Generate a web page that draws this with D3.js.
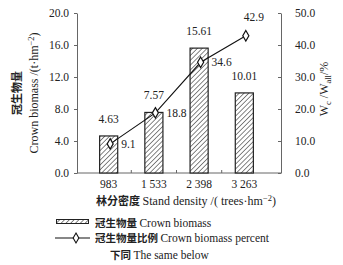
<!DOCTYPE html>
<html>
<head>
<meta charset="utf-8">
<script src="https://cdn.jsdelivr.net/npm/d3@7"></script>
<style>
  body { margin: 0; background: #fff; }
  text { font-family: "Liberation Serif", "Noto Sans CJK SC", serif; fill: #222; }
  .cn { font-family: "Noto Sans CJK SC", sans-serif; font-weight: bold; }
</style>
</head>
<body>
<script>
// data
var densities = ["983", "1 533", "2 398", "3 263"];
var biomass = [4.63, 7.57, 15.61, 10.01];
var percent = [9.1, 18.8, 34.6, 42.9];
var leftTicks = [0, 4, 8, 12, 16, 20];
var rightTicks = [0, 10, 20, 30, 40, 50];

var w = 343, h = 265;
var plotTop = 13, plotBottom = 173, plotLeft = 77, plotRight = 281;

var svg = d3.select("body").append("svg")
    .attr("width", w)
    .attr("height", h);

// hatch pattern
var defs = svg.append("defs");
var pat = defs.append("pattern")
    .attr("id", "hatch")
    .attr("patternUnits", "userSpaceOnUse")
    .attr("width", 3.4)
    .attr("height", 3.4)
    .attr("patternTransform", "rotate(45)");
pat.append("rect").attr("width", 3.4).attr("height", 3.4).attr("fill", "#fff");
pat.append("line")
    .attr("x1", 0).attr("y1", 0).attr("x2", 0).attr("y2", 3.4)
    .attr("stroke", "#222").attr("stroke-width", 1.1);

var x = d3.scaleBand().domain(densities).range([72.5, 280.5]).padding(0.6);
var yL = d3.scaleLinear().domain([0, 20]).range([plotBottom, plotTop]);
var yR = d3.scaleLinear().domain([0, 50]).range([plotBottom, plotTop]);

// left axis
var gL = svg.append("g").attr("transform", "translate(" + plotLeft + ",0)")
    .call(d3.axisLeft(yL).tickValues(leftTicks).tickSize(3).tickSizeOuter(0)
      .tickFormat(d3.format(".1f")));
gL.selectAll("text").attr("font-size", 11.5).attr("dx", -2).style("font-family", "Liberation Serif");
gL.selectAll("line, path").attr("stroke", "#666");

// right axis (ticks inward)
var gR = svg.append("g").attr("transform", "translate(" + plotRight + ",0)")
    .call(d3.axisRight(yR).tickValues(rightTicks).tickSize(0).tickSizeOuter(0)
      .tickFormat(d3.format(".1f")));
gR.selectAll("text").attr("font-size", 11.5).attr("dx", 11).style("font-family", "Liberation Serif");
gR.selectAll("path").attr("stroke", "#666");
gR.selectAll(".tick").append("line").attr("x1", -3).attr("x2", 0).attr("stroke", "#666");

// bottom axis line
svg.append("line")
    .attr("x1", plotLeft).attr("x2", plotRight)
    .attr("y1", plotBottom).attr("y2", plotBottom)
    .attr("stroke", "#666");

// x tick marks between categories
svg.selectAll(".xt")
    .data(densities.slice(1))
    .enter()
    .append("line")
    .attr("x1", function(d) { return x(d) + x.bandwidth() / 2 - x.step() / 2; })
    .attr("x2", function(d) { return x(d) + x.bandwidth() / 2 - x.step() / 2; })
    .attr("y1", plotBottom).attr("y2", plotBottom - 3)
    .attr("stroke", "#666");

// x labels
svg.selectAll(".xl")
    .data(densities)
    .enter()
    .append("text")
    .attr("x", function(d) { return x(d) + x.bandwidth() / 2; })
    .attr("y", 188)
    .attr("text-anchor", "middle")
    .attr("font-size", 11.5)
    .text(function(d) { return d; });

// bars
svg.selectAll(".bar")
    .data(biomass)
    .enter()
    .append("rect")
    .attr("x", function(d, i) { return x(densities[i]); })
    .attr("y", function(d) { return yL(d); })
    .attr("width", x.bandwidth())
    .attr("height", function(d) { return plotBottom - yL(d); })
    .attr("fill", "url(#hatch)")
    .attr("stroke", "#222")
    .attr("stroke-width", 1.2);

svg.selectAll(".bl")
    .data(biomass)
    .enter()
    .append("text")
    .attr("x", function(d, i) { return x(densities[i]) + x.bandwidth() / 2; })
    .attr("y", function(d) { return yL(d) - 13; })
    .attr("text-anchor", "middle")
    .attr("font-size", 11.5)
    .text(function(d) { return d.toFixed(2); });

// line
var cx = function(i) { return x(densities[i]) + x.bandwidth() / 2 + 1.5; };
var line = d3.line()
    .x(function(d, i) { return cx(i); })
    .y(function(d) { return yR(d); });
svg.append("path")
    .datum(percent)
    .attr("d", line)
    .attr("fill", "none")
    .attr("stroke", "#111")
    .attr("stroke-width", 1.1);

svg.selectAll(".pt")
    .data(percent)
    .enter()
    .append("path")
    .attr("d", d3.symbol().type(d3.symbolDiamond).size(32))
    .attr("transform", function(d, i) { return "translate(" + cx(i) + "," + yR(d) + ")"; })
    .attr("fill", "#fff")
    .attr("stroke", "#111")
    .attr("stroke-width", 1.2);

svg.selectAll(".pl")
    .data(percent)
    .enter()
    .append("text")
    .attr("x", function(d, i) { return i == 3 ? cx(i) - 2 : cx(i) + 11; })
    .attr("y", function(d, i) { return i == 3 ? yR(d) - 15 : yR(d) + 4; })
    .attr("font-size", 11.5)
    .text(function(d) { return d.toFixed(1); });

// left title
svg.append("text")
    .attr("transform", "translate(21,93) rotate(-90)")
    .attr("text-anchor", "middle")
    .attr("font-size", 11)
    .attr("class", "cn")
    .text("冠生物量");
var lt2 = svg.append("text")
    .attr("transform", "translate(38,93) rotate(-90)")
    .attr("text-anchor", "middle")
    .attr("font-size", 12);
lt2.append("tspan").text("Crown biomass /(t·hm");
lt2.append("tspan").attr("dy", -4).attr("font-size", 8.5).text("−2");
lt2.append("tspan").attr("dy", 4).text(")");

// right title
var rt = svg.append("text")
    .attr("transform", "translate(328,89) rotate(-90)")
    .attr("text-anchor", "middle")
    .attr("font-size", 12);
rt.append("tspan").text("W");
rt.append("tspan").attr("dy", 3).attr("font-size", 8.5).text("c");
rt.append("tspan").attr("dy", -3).text(" /W");
rt.append("tspan").attr("dy", 3).attr("font-size", 8.5).text("all");
rt.append("tspan").attr("dy", -3).text("/%");

// x title
var xt = svg.append("text")
    .attr("x", 186).attr("y", 205)
    .attr("text-anchor", "middle")
    .attr("font-size", 12);
xt.append("tspan").attr("class", "cn").attr("font-size", 11).text("林分密度 ");
xt.append("tspan").text("Stand density /( trees·hm");
xt.append("tspan").attr("dy", -4).attr("font-size", 8.5).text("−2");
xt.append("tspan").attr("dy", 4).text(")");

// legend
svg.append("rect")
    .attr("x", 56.5).attr("y", 219.5).attr("width", 32).attr("height", 4)
    .attr("fill", "url(#hatch)").attr("stroke", "#222").attr("stroke-width", 1);
var l1 = svg.append("text").attr("x", 95).attr("y", 227).attr("font-size", 11.5);
l1.append("tspan").attr("class", "cn").attr("font-size", 10.5).text("冠生物量 ");
l1.append("tspan").text("Crown biomass");

svg.append("line")
    .attr("x1", 55).attr("x2", 90).attr("y1", 238).attr("y2", 238)
    .attr("stroke", "#111").attr("stroke-width", 1.1);
svg.append("path")
    .attr("d", d3.symbol().type(d3.symbolDiamond).size(28))
    .attr("transform", "translate(76,238)")
    .attr("fill", "#fff").attr("stroke", "#111").attr("stroke-width", 1.1);
var l2 = svg.append("text").attr("x", 95).attr("y", 242).attr("font-size", 11.5);
l2.append("tspan").attr("class", "cn").attr("font-size", 10.5).text("冠生物量比例 ");
l2.append("tspan").text("Crown biomass percent");

var l3 = svg.append("text").attr("x", 110).attr("y", 259).attr("font-size", 11.5);
l3.append("tspan").attr("class", "cn").attr("font-size", 10.5).attr("font-weight", "normal").text("下同 ");
l3.append("tspan").text("The same below");
</script>
</body>
</html>
